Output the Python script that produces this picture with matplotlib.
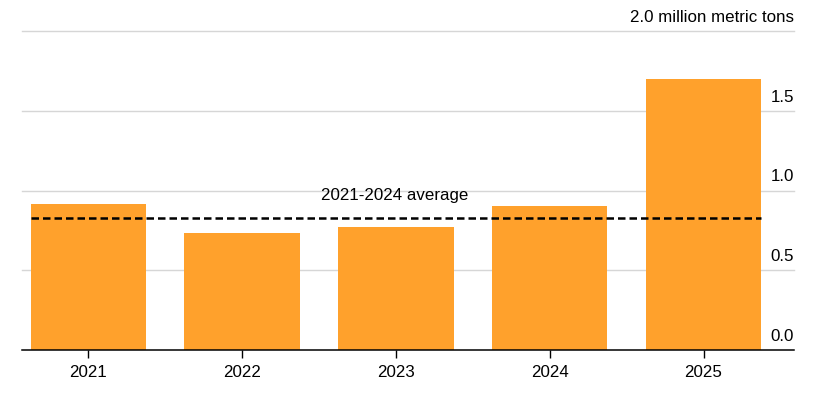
import numpy as np
import matplotlib
matplotlib.use('Agg')
import matplotlib.pyplot as plt
import matplotlib.transforms as mtransforms

# Data
years = ['2021', '2022', '2023', '2024', '2025']
volume = [0.915, 0.731, 0.769, 0.901, 1.699]   # million metric tons
avg_label = '2021-2024 average'
avg_value = 0.829
ytick_vals = [0.0, 0.5, 1.0, 1.5, 2.0]
ytick_labels = ['0.0', '0.5', '1.0', '1.5', '2.0 million metric tons']

plt.rcParams['font.family'] = ['Liberation Sans', 'DejaVu Sans']
fs = 12.2

fig = plt.figure(figsize=(8.22, 3.98), dpi=100)
ax = fig.add_axes([22/822, 48/398, (794-22)/822, (367-48)/398])

x = np.arange(len(years))
bar_w = 0.75
ax.bar(x, volume, width=bar_w, color='#ffa12c', zorder=2)

# gridlines
for v in ytick_vals[1:]:
    ax.axhline(v, color='#d6d6d6', lw=1.0, zorder=1, clip_on=False)
ax.axhline(0, color='black', lw=1.1, zorder=3, clip_on=False)

# average line
ax.plot([x[0] - bar_w/2, x[-1] + bar_w/2], [avg_value, avg_value],
        color='black', lw=1.8, dashes=(3.0, 1.6), zorder=4)
ax.annotate(avg_label, (2 - 0.01, avg_value), xytext=(0, 10.5), textcoords='offset points',
            ha='center', va='bottom', fontsize=fs, color='black')

# y labels on the right, above gridlines
trans = mtransforms.blended_transform_factory(ax.transAxes, ax.transData)
for v, lab in zip(ytick_vals, ytick_labels):
    ax.annotate(lab, (1.0, v), xycoords=trans, xytext=(0, 4.5), textcoords='offset points',
                ha='right', va='bottom', fontsize=fs, color='black')

ax.set_xlim(-0.431, 4.588)
ax.set_ylim(0, 2.0)
ax.set_xticks(x)
ax.set_xticklabels(years, fontsize=fs)
ax.tick_params(axis='x', length=5.5, width=1, color='black', pad=5)
ax.set_yticks([])
for s in ax.spines.values():
    s.set_visible(False)

fig.savefig('out.png', dpi=100)
